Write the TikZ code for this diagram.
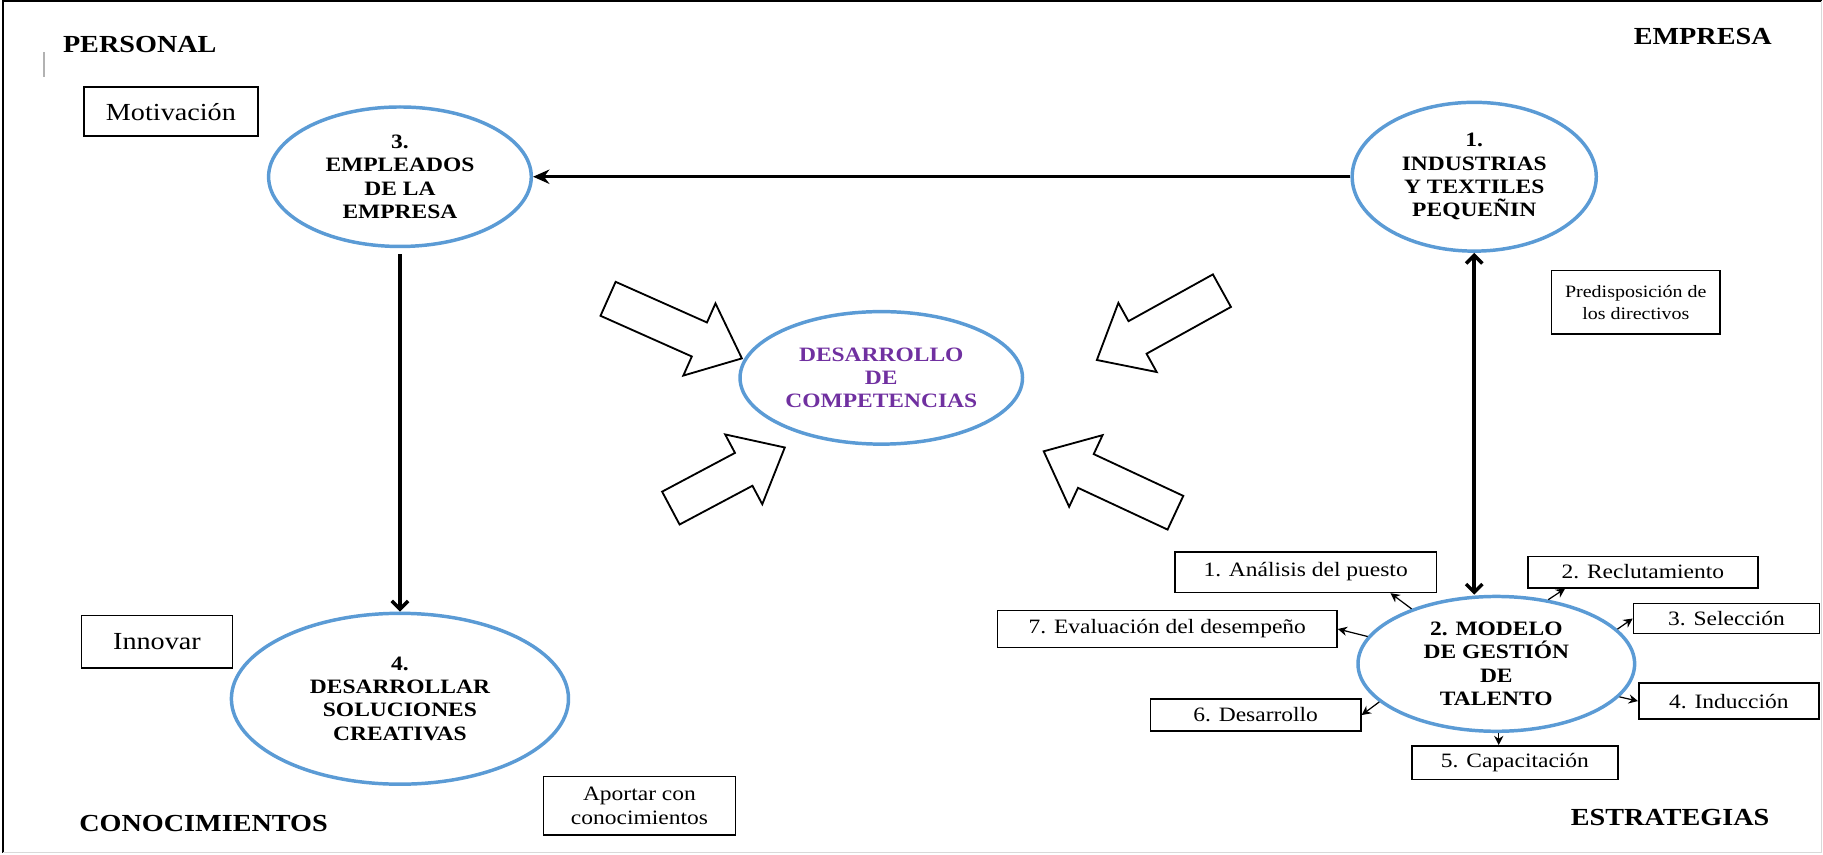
\documentclass[tikz,border=0pt]{standalone}
\usepackage{fontspec}
\setmainfont{Liberation Serif}[FakeStretch=1.15]
\usetikzlibrary{shapes.geometric,arrows.meta}
\definecolor{ovalblue}{RGB}{91,155,213}
\definecolor{violeta}{RGB}{112,48,160}
\tikzset{
  oval/.style={ellipse,draw=ovalblue,line width=1.7pt,inner sep=0pt,align=center,font=\fontsize{10}{11.4}\selectfont\bfseries},
  caja/.style={draw,line width=0.8pt,inner sep=0pt,align=center,font=\fontsize{10}{11.4}\selectfont},
  esquina/.style={font=\fontsize{12}{14}\selectfont\bfseries},
  grueso/.style={line width=1.7pt},
  flecha/.style={line width=0.6pt,-{Stealth[length=4.5pt,width=4.5pt]}},
  bloque/.style={draw,line width=0.9pt,fill=white,line join=miter}
}

\begin{document}
\begin{tikzpicture}[x=0.02cm,y=-0.02cm]
\useasboundingbox (0,0) rectangle (1568,735);
\draw[line width=1.2pt] (1567,1) -- (2.5,1) -- (2.5,734);
\draw[black!15,line width=0.6pt] (2.5,733.5) -- (1567,733.5) -- (1567,1);
\draw[black!30,line width=0.8pt] (38,45) -- (38,66);

\node[esquina,anchor=west] (personal) at (48,38) {PERSONAL};
\node[esquina,anchor=east] (empresa) at (1530,31) {EMPRESA};
\node[esquina,anchor=west] (conoc) at (62,708) {CONOCIMIENTOS};
\node[esquina,anchor=east] (estrat) at (1528,703) {ESTRATEGIAS};

\node[oval,minimum width=4.52cm,minimum height=2.4cm] (emp) at (344,152) {3.\\EMPLEADOS\\DE LA\\EMPRESA};
\node[oval,minimum width=4.2cm,minimum height=2.56cm] (ind) at (1268,152) {1.\\INDUSTRIAS\\Y TEXTILES\\PEQUEÑIN};
\node[oval,minimum width=5.8cm,minimum height=2.94cm] (sol) at (344,601) {4.\\DESARROLLAR\\SOLUCIONES\\CREATIVAS};
\node[oval,minimum width=4.76cm,minimum height=2.32cm] (mgt) at (1287,571) {2. MODELO\\DE GESTIÓN\\DE\\TALENTO};
\node[oval,text=violeta,minimum width=4.86cm,minimum height=2.28cm] (dc) at (758,325) {DESARROLLO\\DE\\COMPETENCIAS};

\node[caja,font=\fontsize{12}{14}\selectfont,minimum width=3cm,minimum height=0.84cm] (mot) at (147,96) {Motivación};
\node[caja,font=\fontsize{12}{14}\selectfont,minimum width=2.6cm,minimum height=0.9cm] (inn) at (135,552) {Innovar};
\node[caja,minimum width=3.3cm,minimum height=1cm] (apo) at (550,693) {Aportar con\\conocimientos};
\node[caja,font=\fontsize{8.5}{11}\selectfont,minimum width=2.9cm,minimum height=1.1cm] (pre) at (1407,260) {Predisposición de\\los directivos};

\node[caja,minimum width=4.5cm,minimum height=0.7cm] (ana) at (1123,492) {1. Análisis del puesto};
\node[caja,minimum width=3.96cm,minimum height=0.54cm] (rec) at (1413,492) {2. Reclutamiento};
\node[caja,minimum width=3.2cm,minimum height=0.52cm] (sel) at (1485,532) {3. Selección};
\node[caja,minimum width=3.1cm,minimum height=0.62cm] (indu) at (1487,603) {4. Inducción};
\node[caja,minimum width=3.54cm,minimum height=0.58cm] (cap) at (1303,656) {5. Capacitación};
\node[caja,minimum width=3.62cm,minimum height=0.56cm] (des) at (1080,615) {6. Desarrollo};
\node[caja,minimum width=5.84cm,minimum height=0.64cm] (eva) at (1004,541) {7. Evaluación del desempeño};

\draw[grueso,-{Stealth[length=8pt,width=7pt]}] (ind.west) -- (emp.east);
\draw[grueso,-{Straight Barb[length=4pt,width=8pt]}] ([yshift=-3pt]emp.south) -- (sol.north);
\draw[grueso,{Straight Barb[length=4pt,width=8pt]}-{Straight Barb[length=4pt,width=8pt]}] (ind.south) -- (ind.south |- mgt.north);

\draw[flecha] (mgt.147) -- (ana.-14);
\draw[flecha] (mgt.51) -- (rec.-168);
\draw[flecha] (mgt.16) -- (sel.west);
\draw[flecha] (mgt.-15) -- (indu.west);
\draw[flecha] (mgt.-88) -- (mgt.-88 |- cap.north);
\draw[flecha] (mgt.-162) -- (des.east);
\draw[flecha] (mgt.168) -- (eva.east);

\foreach \bx/\by/\ang/\lon in {523/257/-24/126, 1051/250/-151/123, 577/437/28/111, 1011/441/155/125}
  \draw[bloque,shift={(\bx,\by)},rotate=\ang] (0,-16) -- (\lon-40,-16) -- (\lon-40,-34) -- (\lon,0) -- (\lon-40,34) -- (\lon-40,16) -- (0,16) -- cycle;
\end{tikzpicture}
\end{document}
